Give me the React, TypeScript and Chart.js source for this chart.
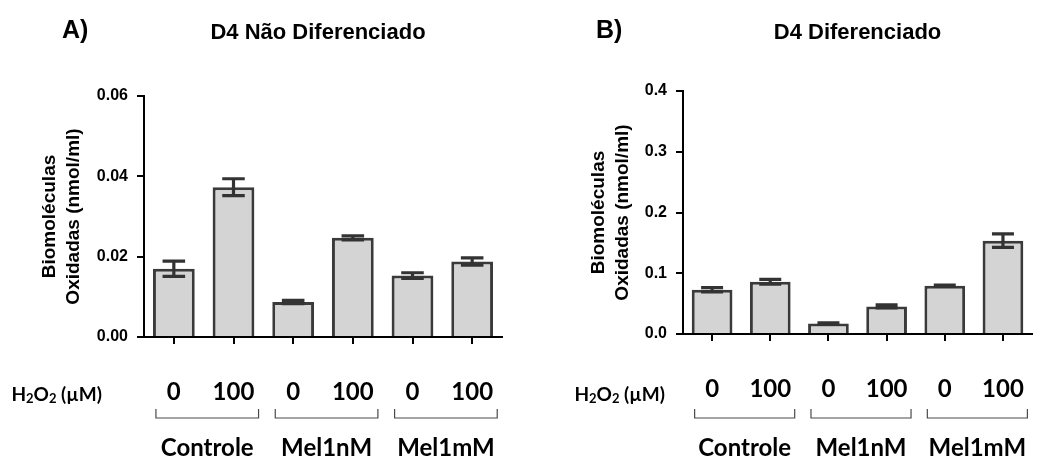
import React, { useEffect, useRef } from "react";
import { Chart, registerables } from "chart.js";

Chart.register(...registerables);

// ---- data ----
const doseLabels = ["0", "100", "0", "100", "0", "100"];
const groupLabels = ["Controle", "Mel1nM", "Mel1mM"];
const valuesA = [0.017, 0.0373, 0.0087, 0.0247, 0.0153, 0.0188];
const errorsA = [0.0019, 0.0021, 0.0004, 0.0005, 0.0007, 0.0009];
const valuesB = [0.0728, 0.0859, 0.0174, 0.0453, 0.0793, 0.1537];
const errorsB = [0.0036, 0.004, 0.001, 0.0025, 0.001, 0.0112];
const yTicksA = [0, 0.02, 0.04, 0.06];
const yTicksB = [0, 0.1, 0.2, 0.3, 0.4];
const titleA = "D4 Não Diferenciado";
const titleB = "D4 Diferenciado";
const yTitle = ["Biomoléculas", "Oxidadas (nmol/ml)"];

type Panel = {
  width: number;
  values: number[];
  errors: number[];
  yTicks: number[];
  decimals: number;
  title: string;
  panelLabel: string;
  panelX: number;
  titleOffset: number;
  yWidth: number;
  padRight: number;
  padTop: number;
  xHeight: number;
  yTitlePad: number;
  hLabelRight: number;
};

const panelA: Panel = {
  width: 530,
  values: valuesA,
  errors: errorsA,
  yTicks: yTicksA,
  decimals: 2,
  title: titleA,
  panelLabel: "A)",
  panelX: 62,
  titleOffset: -5,
  yWidth: 144,
  padRight: 28,
  padTop: 96,
  xHeight: 120,
  yTitlePad: 38,
  hLabelRight: 102,
};

const panelB: Panel = {
  width: 529,
  values: valuesB,
  errors: errorsB,
  yTicks: yTicksB,
  decimals: 1,
  title: titleB,
  panelLabel: "B)",
  panelX: 66,
  titleOffset: 0,
  yWidth: 153,
  padRight: 14,
  padTop: 91,
  xHeight: 123,
  yTitlePad: 57,
  hLabelRight: 135,
};

const ARIAL = '"Liberation Sans", Arial, sans-serif';
const CALIBRI = 'Lato, "Noto Sans", sans-serif';

function makePlugin(p: Panel) {
  return {
    id: "extras",
    afterDatasetsDraw(chart: any) {
      const ctx = chart.ctx;
      const y = chart.scales.y;
      const meta = chart.getDatasetMeta(0);
      ctx.save();
      ctx.strokeStyle = "#333333";
      ctx.lineWidth = 3.2;
      meta.data.forEach((bar: any, i: number) => {
        const v = p.values[i];
        const e = p.errors[i];
        const yt = y.getPixelForValue(v + e);
        const yb = y.getPixelForValue(v - e);
        const half = bar.width * 0.27;
        ctx.beginPath();
        ctx.moveTo(bar.x, yt);
        ctx.lineTo(bar.x, yb);
        ctx.moveTo(bar.x - half, yt);
        ctx.lineTo(bar.x + half, yt);
        ctx.moveTo(bar.x - half, yb);
        ctx.lineTo(bar.x + half, yb);
        ctx.stroke();
      });
      ctx.restore();
    },
    afterDraw(chart: any) {
      const ctx = chart.ctx;
      const area = chart.chartArea;
      const x = chart.scales.x;
      ctx.save();
      ctx.fillStyle = "#000";
      ctx.textBaseline = "middle";
      // panel letter
      ctx.font = `bold 25px ${ARIAL}`;
      ctx.textAlign = "left";
      ctx.fillText(p.panelLabel, p.panelX, 31);
      // title
      ctx.font = `bold 22px ${ARIAL}`;
      ctx.textAlign = "center";
      ctx.fillText(p.title, (area.left + area.right) / 2 + p.titleOffset, 33);
      // H2O2 label
      const parts: [string, number, number][] = [
        ["H", 19, 0],
        ["2", 13, 4],
        ["O", 19, 0],
        ["2", 13, 4],
        [" (µM)", 19, 0],
      ];
      ctx.textAlign = "left";
      let total = 0;
      parts.forEach(([t, s]) => {
        ctx.font = `bold ${s}px ${CALIBRI}`;
        total += ctx.measureText(t).width;
      });
      let cx = p.hLabelRight - total;
      parts.forEach(([t, s, dy]) => {
        ctx.font = `bold ${s}px ${CALIBRI}`;
        ctx.fillText(t, cx, 395 + dy);
        cx += ctx.measureText(t).width;
      });
      // brackets and group labels
      ctx.strokeStyle = "#4a4a4a";
      ctx.lineWidth = 1.2;
      ctx.font = `bold 24px ${CALIBRI}`;
      ctx.textAlign = "center";
      groupLabels.forEach((g, gi) => {
        const c0 = x.getPixelForValue(gi * 2);
        const c1 = x.getPixelForValue(gi * 2 + 1);
        const w = c1 - c0;
        const l = c0 - 0.3 * w;
        const r = c1 + 0.42 * w;
        ctx.beginPath();
        ctx.moveTo(l, 409);
        ctx.lineTo(l, 418);
        ctx.lineTo(r, 418);
        ctx.lineTo(r, 409);
        ctx.stroke();
        ctx.fillText(g, (l + r) / 2, 448);
      });
      ctx.restore();
    },
  };
}

function makeConfig(p: Panel): any {
  return {
    type: "bar",
    data: {
      labels: doseLabels,
      datasets: [
        {
          data: p.values,
          backgroundColor: "#d4d4d4",
          borderColor: "#3a3a3a",
          borderWidth: 3,
          borderSkipped: "start",
          categoryPercentage: 1,
          barPercentage: 0.7,
        },
      ],
    },
    options: {
      responsive: false,
      animation: false,
      devicePixelRatio: 1,
      layout: { padding: { left: 0, right: p.padRight, top: p.padTop, bottom: 0 } },
      plugins: { legend: { display: false }, tooltip: { enabled: false }, title: { display: false } },
      scales: {
        x: {
          offset: true,
          grid: {
            display: true,
            offset: false,
            drawOnChartArea: false,
            drawTicks: true,
            tickLength: 7,
            color: "#000",
            lineWidth: 2,
          },
          border: { display: true, color: "#000", width: 2 },
          ticks: {
            color: "#000",
            padding: 34,
            maxRotation: 0,
            autoSkip: false,
            font: { family: CALIBRI, size: 24, weight: "bold" },
          },
          afterFit: (axis: any) => {
            axis.height = p.xHeight;
          },
        },
        y: {
          min: p.yTicks[0],
          max: p.yTicks[p.yTicks.length - 1],
          afterBuildTicks: (axis: any) => {
            axis.ticks = p.yTicks.map((v) => ({ value: v }));
          },
          grid: {
            display: true,
            drawOnChartArea: false,
            drawTicks: true,
            tickLength: 7,
            color: "#000",
            lineWidth: 2,
          },
          border: { display: true, color: "#000", width: 2 },
          ticks: {
            color: "#000",
            padding: 9,
            font: { family: ARIAL, size: 16, weight: "bold" },
            callback: (v: any) => Number(v).toFixed(p.decimals),
          },
          title: {
            display: true,
            text: yTitle,
            color: "#000",
            padding: { top: p.yTitlePad, bottom: 0 },
            font: { family: ARIAL, size: 19, weight: "bold", lineHeight: 1.25 },
          },
          afterFit: (axis: any) => {
            axis.width = p.yWidth;
          },
        },
      },
    },
    plugins: [makePlugin(p)],
  };
}

function BarPanel({ p, left }: { p: Panel; left: number }) {
  const ref = useRef<HTMLCanvasElement | null>(null);
  useEffect(() => {
    if (!ref.current) return;
    const chart = new Chart(ref.current, makeConfig(p));
    return () => chart.destroy();
  }, [p]);
  return (
    <canvas
      ref={ref}
      width={p.width}
      height={457}
      style={{ position: "absolute", left, top: 0, width: p.width, height: 457, display: "block" }}
    />
  );
}

export default function App() {
  return (
    <div
      style={{
        position: "absolute",
        left: 0,
        top: 0,
        width: 1059,
        height: 457,
        background: "#fff",
        overflow: "hidden",
      }}
    >
      <BarPanel p={panelA} left={0} />
      <BarPanel p={panelB} left={530} />
    </div>
  );
}
